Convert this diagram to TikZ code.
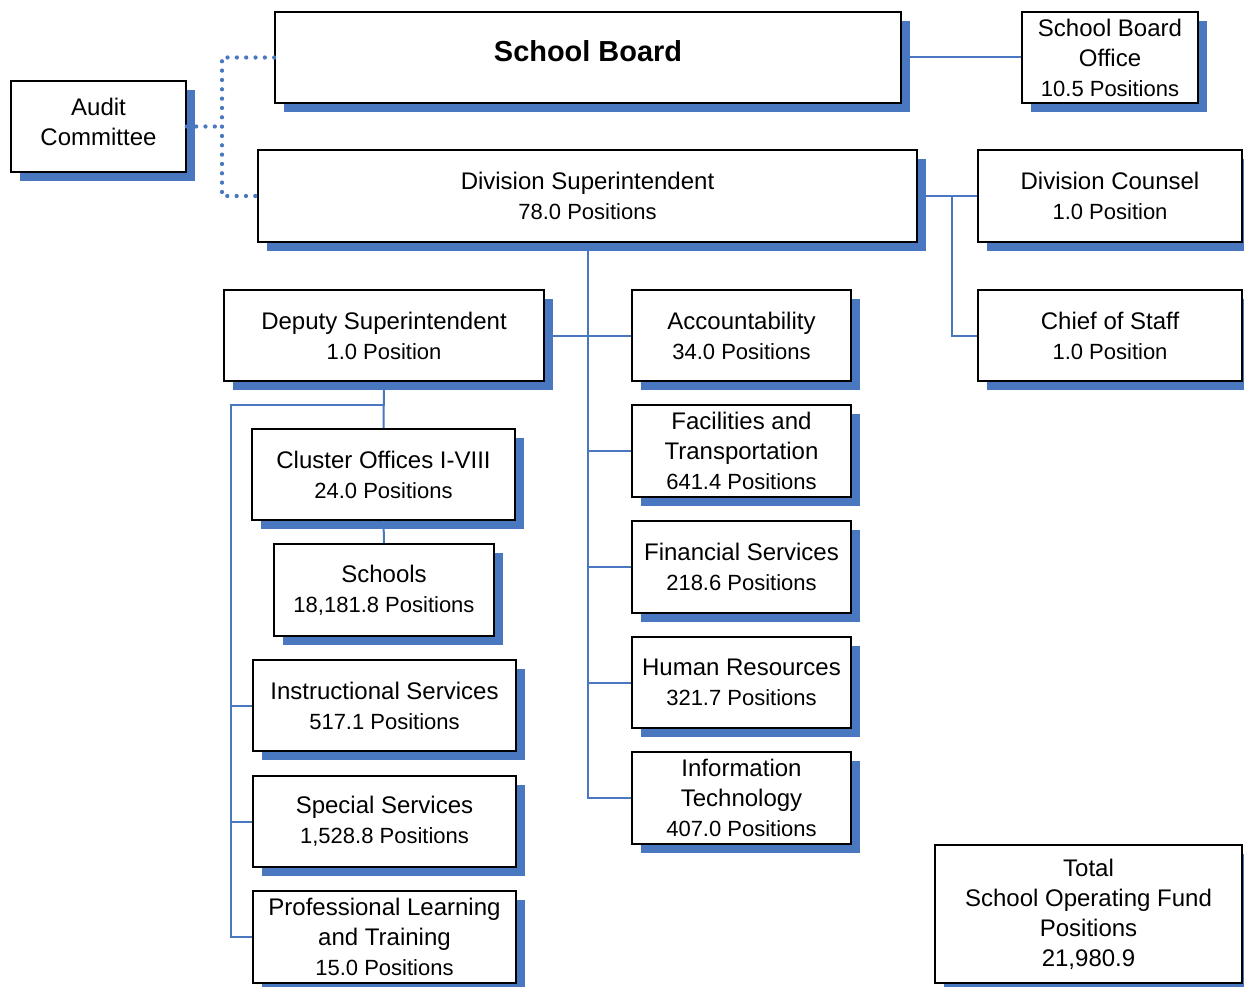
\documentclass[tikz,border=0pt]{standalone}
\usepackage{fontspec}
\setmainfont{Liberation Sans}
\usetikzlibrary{shadows}
\definecolor{shblue}{RGB}{74,120,192}
\definecolor{lnblue}{RGB}{74,120,192}
\newcommand\ps[1]{{\fontsize{16.5}{22.5}\selectfont #1}}
\newcommand\bx[6]{\node[box, minimum width={(#4-#2)*0.75pt}, minimum height={(#5-#3)*0.75pt}] (#1) at ({(#2+#4)/2},{(#3+#5)/2}) {#6};}
\tikzset{
  box/.style={draw=black, line width=1.2pt, fill=white, inner sep=0pt, align=center,
    font=\fontsize{18}{22.5}\selectfont,
    general shadow={fill=shblue, shadow xshift=6.75pt, shadow yshift=-6.75pt}},
  conn/.style={draw=lnblue, line width=1.5pt},
  dots/.style={draw=lnblue, line width=3.2pt, line cap=round, dash pattern=on 0pt off 7pt}
}
\begin{document}
\begin{tikzpicture}[x=0.75pt,y=-0.75pt]
\useasboundingbox[fill=white] (0,0) rectangle (1244,987);
\coordinate (dx) at (222,0);
\coordinate (rx) at (952,0);
\coordinate (lx) at (231,405);
\bx{sb}{275}{12}{901}{103}{}
\node[font=\bfseries\fontsize{21.7}{26}\selectfont] (sbt) at (588,51) {School Board};
\bx{sbo}{1022}{12}{1198}{103}{School Board\\Office\\\ps{10.5 Positions}}
\bx{audit}{11}{81}{186}{172}{Audit\\Committee\\[-15pt]}
\bx{ds}{258}{150}{917}{242}{Division Superintendent\\\ps{78.0 Positions}}
\bx{dc}{978}{150}{1242}{242}{Division Counsel\\\ps{1.0 Position}}
\bx{cos}{978}{290}{1242}{381}{Chief of Staff\\\ps{1.0 Position}}
\bx{dep}{224}{290}{544}{381}{Deputy Superintendent\\\ps{1.0 Position}}
\bx{acc}{632}{290}{851}{381}{Accountability\\\ps{34.0 Positions}}
\bx{fac}{632}{405}{851}{497}{Facilities and\\Transportation\\\ps{641.4 Positions}}
\bx{fin}{632}{521}{851}{613}{Financial Services\\\ps{218.6 Positions}}
\bx{hr}{632}{637}{851}{728}{Human Resources\\\ps{321.7 Positions}}
\bx{it}{632}{752}{851}{844}{Information\\Technology\\\ps{407.0 Positions}}
\bx{clu}{252}{429}{515}{520}{Cluster Offices I-VIII\\\ps{24.0 Positions}}
\bx{sch}{274}{544}{494}{636}{Schools\\\ps{18,181.8 Positions}}
\bx{ins}{253}{660}{516}{751}{Instructional Services\\\ps{517.1 Positions}}
\bx{spe}{253}{776}{516}{867}{Special Services\\\ps{1,528.8 Positions}}
\bx{plt}{253}{891}{516}{983}{Professional Learning\\and Training\\\ps{15.0 Positions}}
\bx{tot}{935}{845}{1242}{983}{Total\\School Operating Fund\\Positions\\21,980.9}
% connectors
\draw[conn] (sb.east) -- (sbo.west);
\draw[dots] (sb.west) -- (sb.west -| dx) -- (ds.west -| dx) -- (ds.west);
\draw[dots] (audit.east) -- (audit.east -| dx);
\draw[conn] (ds.east) -- (dc.west);
\draw[conn] (rx |- ds.east) -- (rx |- cos.west) -- (cos.west);
\draw[conn] (ds.south) -- (ds.south |- it.west) -- (it.west);
\draw[conn] (dep.east) -- (acc.west);
\draw[conn] (ds.south |- fac.west) -- (fac.west);
\draw[conn] (ds.south |- fin.west) -- (fin.west);
\draw[conn] (ds.south |- hr.west) -- (hr.west);
\draw[conn] (dep.south) -- (clu.north);
\draw[conn] (clu.south) -- (sch.north);
\draw[conn] (dep.south |- lx) -- (lx) -- (lx |- plt.west) -- (plt.west);
\draw[conn] (lx |- ins.west) -- (ins.west);
\draw[conn] (lx |- spe.west) -- (spe.west);
\end{tikzpicture}
\end{document}
